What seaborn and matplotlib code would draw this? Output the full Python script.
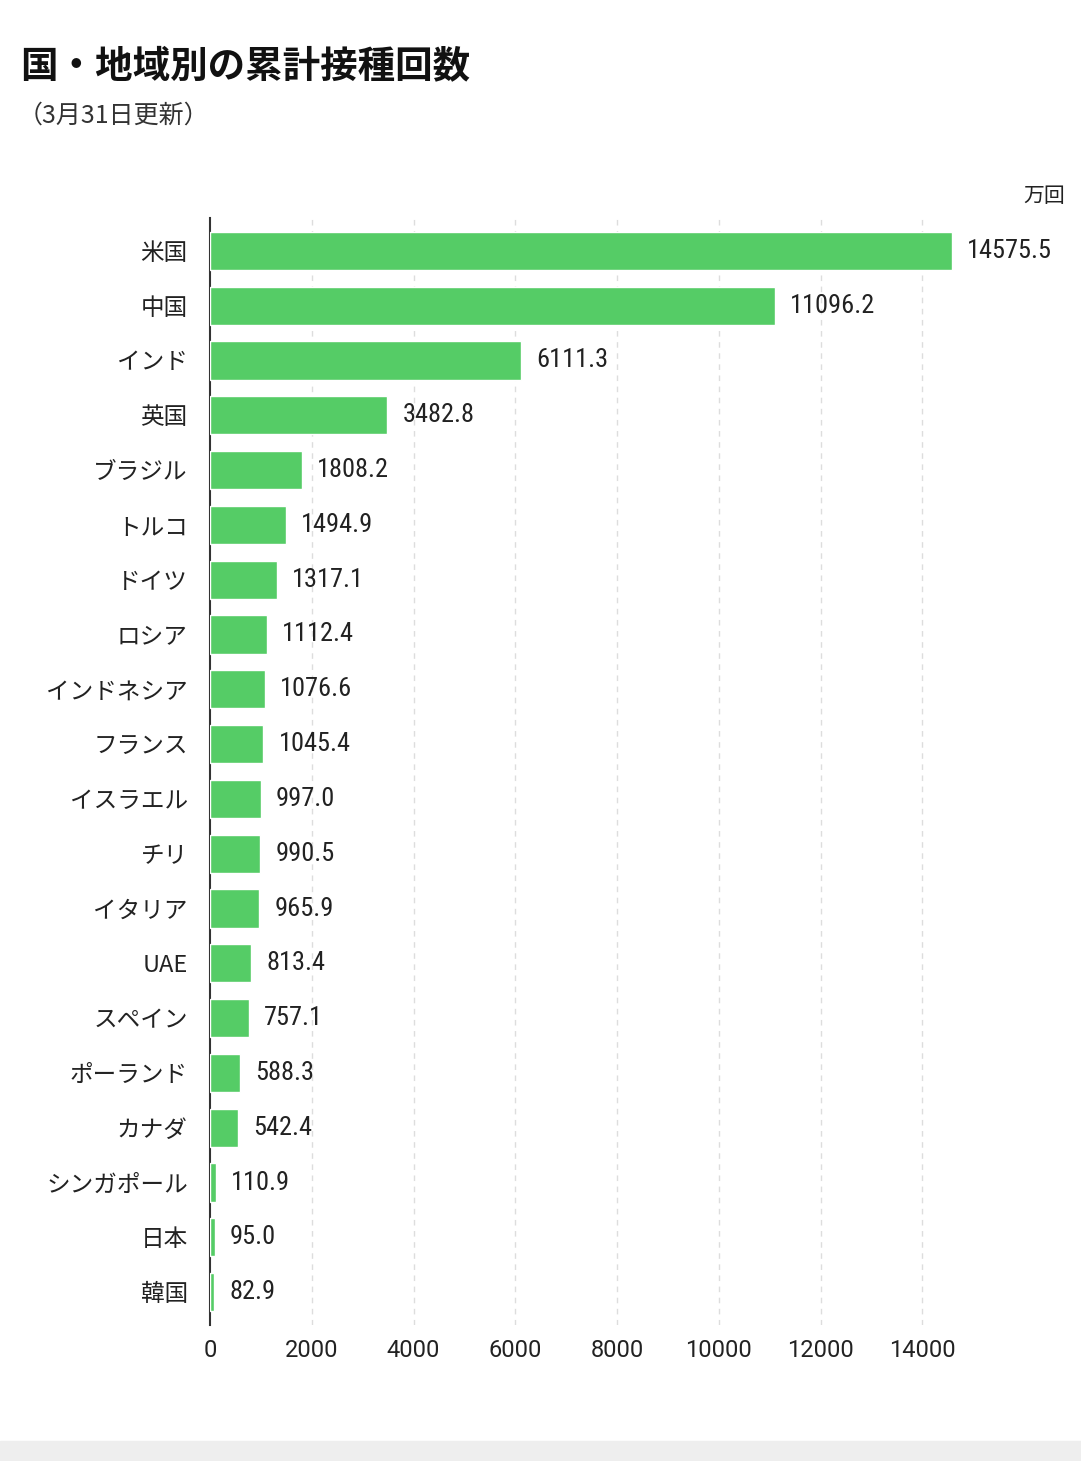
import matplotlib
matplotlib.use("Agg")
import matplotlib.pyplot as plt
import seaborn as sns
import pandas as pd

countries = ["米国","中国","インド","英国","ブラジル","トルコ","ドイツ","ロシア","インドネシア","フランス",
             "イスラエル","チリ","イタリア","UAE","スペイン","ポーランド","カナダ","シンガポール","日本","韓国"]
values = [14575.5,11096.2,6111.3,3482.8,1808.2,1494.9,1317.1,1112.4,1076.6,1045.4,
          997.0,990.5,965.9,813.4,757.1,588.3,542.4,110.9,95.0,82.9]
xticks = [0,2000,4000,6000,8000,10000,12000,14000]

sns.set_style("white")
plt.rcParams['font.family'] = ['Noto Sans CJK JP', 'DejaVu Sans']

df = pd.DataFrame({"country": countries, "value": values})
fig = plt.figure(figsize=(10.81, 14.61), dpi=100)
ax = fig.add_axes([210/1081, 1-1325/1461, (1024-210)/1081, (1325-218)/1461])
sns.barplot(data=df, x="value", y="country", color="#55cc66", saturation=1, width=0.7, ax=ax, zorder=3)
ax.set_xlim(0, 16000)
ax.set_ylim(19.6, -0.6)
ax.set_xticks(xticks)
ax.set_xticklabels([str(t) for t in xticks], fontsize=17, family=['Roboto', 'DejaVu Sans'], color="#222222")
ax.tick_params(axis='y', labelsize=17, length=0, pad=16)
ax.tick_params(axis='x', length=0, pad=10)
for t in ax.get_yticklabels():
    t.set_color("#222222")
for x in xticks[1:]:
    ax.axvline(x, color="#dddddd", ls=(0, (4, 4)), lw=1, zorder=1)
for s in ["top", "right", "bottom"]:
    ax.spines[s].set_visible(False)
ax.spines["left"].set_color("#333333")
ax.spines["left"].set_linewidth(1.5)
ax.set_xlabel(""); ax.set_ylabel("")
for i, v in enumerate(values):
    ax.text(v + 300, i, f"{v:.1f}", va="center", ha="left", fontsize=19,
            family=['Roboto Condensed', 'Roboto', 'DejaVu Sans'], color="#222222", clip_on=False)
fig.text(1065/1081, 1-196/1461, "万回", ha="right", va="center", fontsize=15, color="#222222")
fig.text(20/1081, 1-66/1461, "国・地域別の累計接種回数", ha="left", va="center", fontsize=27, fontweight="bold", color="#111111")
fig.text(18/1081, 1-116/1461, "（3月31日更新）", ha="left", va="center", fontsize=18, color="#333333")
fig.add_artist(plt.Rectangle((0, 0), 1, 20/1461, transform=fig.transFigure, color="#eeeeee"))
fig.savefig("out.png", dpi=100)
